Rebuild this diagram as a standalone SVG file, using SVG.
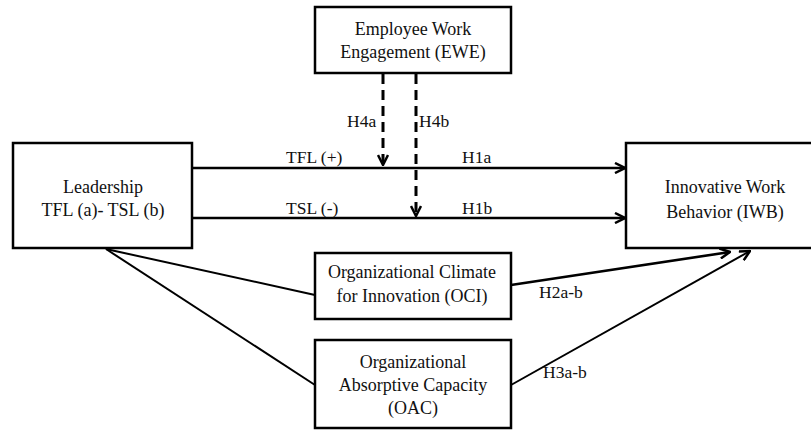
<svg xmlns="http://www.w3.org/2000/svg" width="811" height="430" viewBox="0 0 811 430">
<defs>
<style>
.box{fill:#fff;stroke:#000;stroke-width:2.5}
.t{font-size:17.5px;fill:#111}
.n{font-size:18px;fill:#111;text-anchor:middle}
.ln{stroke:#000;stroke-width:2.6;fill:none}
.dg{stroke:#000;stroke-width:2;fill:none}
.ds{stroke:#000;stroke-width:3;fill:none;stroke-dasharray:10 6}
</style>
<marker id="ah" viewBox="0 0 12 12" refX="11" refY="6" markerWidth="12" markerHeight="12" markerUnits="userSpaceOnUse" orient="auto">
<polyline points="1,1 11,6 1,11" fill="none" stroke="#000" stroke-width="2.5"/>
</marker>
</defs>
<rect width="811" height="430" fill="#fff"/>
<g font-family="Liberation Serif, serif">
<g id="connectors">
<line class="ln" x1="192" y1="168" x2="625" y2="168" marker-end="url(#ah)"/>
<line class="ln" x1="192" y1="218" x2="625" y2="218" marker-end="url(#ah)"/>
<line class="ds" x1="383" y1="74" x2="383" y2="165" marker-end="url(#ah)"/>
<line class="ds" x1="416" y1="74" x2="416" y2="216" marker-end="url(#ah)"/>
<line class="dg" x1="106" y1="249" x2="315" y2="295"/>
<line class="dg" x1="106" y1="249" x2="315" y2="385"/>
<line class="ln" x1="511" y1="285" x2="730" y2="252" marker-end="url(#ah)"/>
<line class="dg" x1="511" y1="385" x2="750" y2="251" marker-end="url(#ah)"/>
<text class="t" x="286" y="163">TFL (+)</text>
<text class="t" x="462" y="163">H1a</text>
<text class="t" x="286" y="214">TSL (-)</text>
<text class="t" x="462" y="214">H1b</text>
<text class="t" x="347" y="127">H4a</text>
<text class="t" x="419" y="127">H4b</text>
<text class="t" x="539" y="298">H2a-b</text>
<text class="t" x="543" y="378">H3a-b</text>
</g>
<g id="EWE">
<rect class="box" x="315" y="7" width="196" height="66"/>
<text class="n" x="413" y="35">Employee Work</text>
<text class="n" x="413" y="58">Engagement (EWE)</text>
</g>
<g id="Leadership">
<rect class="box" x="13" y="143" width="179" height="105"/>
<text class="n" x="103" y="193">Leadership</text>
<text class="n" x="103" y="216">TFL (a)- TSL (b)</text>
</g>
<g id="IWB">
<rect class="box" x="626" y="143" width="190" height="105"/>
<text class="n" x="725" y="193">Innovative Work</text>
<text class="n" x="725" y="218">Behavior (IWB)</text>
</g>
<g id="OCI">
<rect class="box" x="315" y="253" width="196" height="66"/>
<text class="n" x="412" y="278">Organizational Climate</text>
<text class="n" x="412" y="302">for Innovation (OCI)</text>
</g>
<g id="OAC">
<rect class="box" x="315" y="340" width="196" height="88"/>
<text class="n" x="413" y="368">Organizational</text>
<text class="n" x="413" y="391">Absorptive Capacity</text>
<text class="n" x="413" y="414">(OAC)</text>
</g>
</g>
</svg>
